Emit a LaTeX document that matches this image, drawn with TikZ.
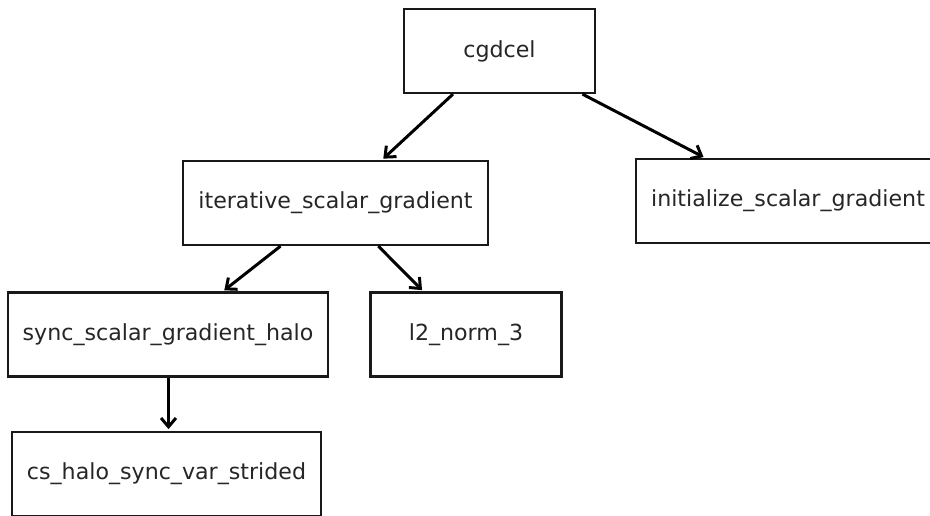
\documentclass[tikz,border=0pt]{standalone}
\usepackage{fontspec}
\setmainfont{DejaVu Sans}
\usepackage{tikz}
\usetikzlibrary{arrows,arrows.meta,shapes,positioning,calc}

\begin{document}
\begin{tikzpicture}[x=0.02cm,y=-0.02cm]

           \tikzstyle{every edge}=[-{Straight Barb[length=5pt,width=8.5pt]},shorten >=1pt,draw,line width=1.7pt]
           \tikzstyle{fbox}=[draw=black!90,line width=1.3pt,fill=white,minimum height=1.68cm,font=\fontsize{12.6}{15}\selectfont,text=black!85,inner sep=0pt]

   \useasboundingbox (0,0) rectangle (930,516);

   \node[fbox, minimum width=3.82cm] (C) at (499.5,51) {cgdcel};
    \node[fbox, minimum width=6.1cm] (I) at (335.5,203) {iterative\_scalar\_gradient};
    \node[fbox, minimum width=6.08cm] (N) at (788,201) {initialize\_scalar\_gradient};
    \node[fbox, minimum width=6.4cm] (S) at (168,334.5) {sync\_scalar\_gradient\_halo};
    \node[fbox, minimum width=3.82cm] (L) at (466,334.5) {l2\_norm\_3};
    \node[fbox, minimum width=6.18cm] (H) at (166.5,474) {cs\_halo\_sync\_var\_strided};
    \path (C) edge (I);
    \path (C) edge (N);
    \path (I) edge (S);
    \path (I) edge (L);
    \path (S.south -| 168.5,0) edge (H.north -| 168.5,0);
 \end{tikzpicture}
\end{document}
